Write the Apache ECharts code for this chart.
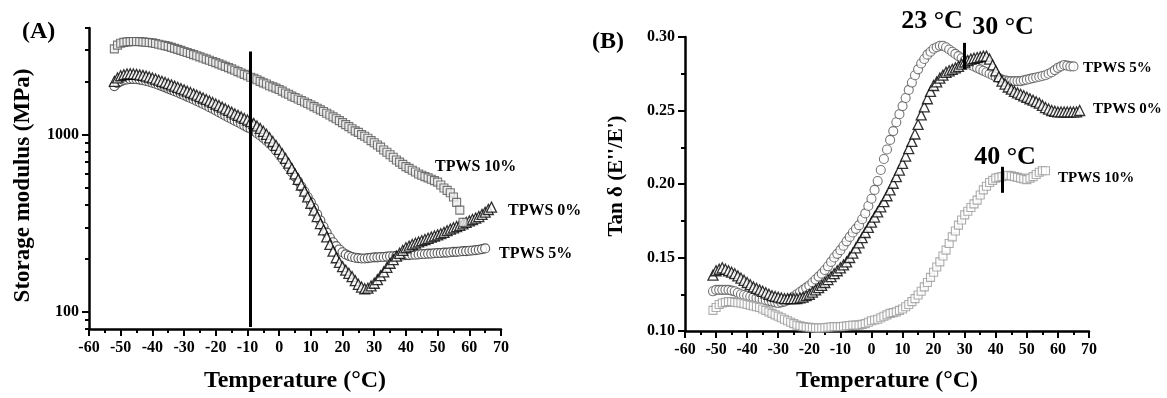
<!DOCTYPE html>
<html>
<head>
<meta charset="utf-8">
<script src="https://cdn.jsdelivr.net/npm/echarts@6/dist/echarts.min.js"></script>
<style>
html,body{margin:0;padding:0;background:#fff;}
#chart{width:1167px;height:398px;}
</style>
</head>
<body>
<div id="chart"></div>
<script>
// Temperature grid (°C) shared by all series
const temps = [-52,-51,-50,-49,-48,-47,-46,-45,-44,-43,
  -42,-41,-40,-39,-38,-37,-36,-35,-34,-33,
  -32,-31,-30,-29,-28,-27,-26,-25,-24,-23,
  -22,-21,-20,-19,-18,-17,-16,-15,-14,-13,
  -12,-11,-10,-9,-8,-7,-6,-5,-4,-3,
  -2,-1,0,1,2,3,4,5,6,7,
  8,9,10,11,12,13,14,15,16,17,
  18,19,20,21,22,23,24,25,26,27,
  28,29,30,31,32,33,34,35,36,37,
  38,39,40,41,42,43,44,45,46,47,
  48,49,50,51,52,53,54,55,56,57,
  58,59,60,61,62,63,64,65,66,67,
  68];

// Panel A: storage modulus (MPa)
const storage10 = [3050,3200,3280,3320,3340,3350,3355,3355,3350,3340,
  3325,3310,3295,3270,3240,3210,3180,3150,3110,3070,
  3030,2990,2950,2910,2870,2830,2790,2750,2710,2670,
  2630,2590,2550,2510,2470,2430,2390,2350,2310,2270,
  2230,2190,2150,2110,2080,2040,2000,1960,1930,1890,
  1860,1830,1800,1760,1720,1690,1650,1620,1590,1560,
  1530,1500,1470,1440,1410,1380,1350,1320,1290,1260,
  1230,1200,1170,1140,1110,1080,1050,1030,1000,980,
  955,925,900,875,850,820,795,770,745,720,
  700,680,660,645,630,615,600,590,580,570,
  560,550,540,520,500,485,470,445,415,375,
  320,null,null,null,null,null,null,null,null,null,
  null];
const storage0 = [2000,2090,2150,2180,2200,2205,2200,2190,2175,2160,
  2140,2115,2090,2060,2030,2000,1970,1940,1910,1880,
  1850,1820,1790,1760,1730,1700,1670,1640,1610,1580,
  1550,1520,1490,1460,1430,1400,1370,1340,1310,1285,
  1260,1235,1210,1185,1155,1120,1085,1045,1005,960,
  915,870,825,780,735,690,645,600,560,520,
  480,445,410,375,345,315,290,265,240,220,
  202,190,180,172,165,158,150,143,138,135,
  136,140,145,152,160,168,178,188,197,206,
  214,222,230,235,240,244,248,252,256,260,
  264,268,272,276,281,287,293,298,303,308,
  314,320,326,332,338,345,355,365,378,390,
  null];
const storage5 = [1880,1950,2000,2030,2050,2060,2060,2055,2045,2030,
  2010,1990,1965,1940,1910,1880,1850,1820,1790,1760,
  1730,1700,1670,1640,1610,1580,1550,1520,1490,1460,
  1430,1400,1370,1340,1310,1280,1250,1225,1200,1175,
  1150,1125,1100,1080,1050,1020,990,960,925,890,
  855,815,775,735,695,655,615,580,545,510,
  478,445,415,385,355,328,302,280,262,247,
  235,225,217,211,207,204,202,201,200,200,
  201,202,203,203,204,204,205,206,206,207,
  207,208,209,209,210,210,211,212,212,213,
  213,214,215,215,216,216,217,218,218,219,
  220,220,221,222,223,224,226,228,null,null,
  null];

// Panel B: tan delta
const tan0 = [null,0.138,0.141,0.142,0.143,0.142,0.141,0.140,0.139,0.1375,
  0.136,0.1345,0.133,0.1315,0.130,0.129,0.128,0.127,0.126,0.125,
  0.124,0.1235,0.123,0.1225,0.122,0.122,0.122,0.122,0.122,0.1225,
  0.123,0.124,0.125,0.1265,0.128,0.1295,0.131,0.133,0.135,0.137,
  0.139,0.141,0.143,0.145,0.147,0.150,0.153,0.1565,0.160,0.1635,
  0.167,0.1705,0.174,0.1775,0.181,0.1845,0.188,0.192,0.196,0.2005,
  0.205,0.2095,0.214,0.219,0.224,0.229,0.234,0.2405,0.247,0.2525,
  0.258,0.263,0.267,0.2695,0.272,0.274,0.276,0.277,0.278,0.279,
  0.280,0.2815,0.283,0.284,0.285,0.2855,0.286,0.2865,0.287,0.287,
  0.285,0.281,0.277,0.273,0.270,0.268,0.266,0.2645,0.263,0.262,
  0.261,0.260,0.259,0.258,0.257,0.256,0.255,0.2535,0.252,0.251,
  0.250,0.2495,0.249,0.249,0.249,0.249,0.249,0.249,0.249,0.250,
  null];
const tan5 = [null,0.127,0.128,0.128,0.128,0.128,0.128,0.1275,0.127,0.126,
  0.125,0.1245,0.124,0.1235,0.123,0.1225,0.122,0.1215,0.121,0.1205,
  0.120,0.1195,0.119,0.1195,0.120,0.121,0.122,0.1235,0.125,0.1265,
  0.128,0.1295,0.131,0.133,0.135,0.137,0.139,0.1415,0.144,0.147,
  0.150,0.1525,0.155,0.158,0.161,0.164,0.167,0.1695,0.172,0.176,
  0.180,0.185,0.190,0.196,0.202,0.2095,0.217,0.2235,0.230,0.236,
  0.242,0.2475,0.253,0.2585,0.264,0.269,0.274,0.278,0.282,0.285,
  0.288,0.290,0.292,0.293,0.294,0.294,0.293,0.2915,0.290,0.2885,
  0.287,0.2855,0.284,0.2825,0.281,0.280,0.279,0.278,0.277,0.276,
  0.275,0.274,0.273,0.272,0.271,0.2705,0.270,0.270,0.270,0.270,
  0.270,0.2705,0.271,0.2715,0.272,0.2725,0.273,0.2735,0.274,0.275,
  0.276,0.2775,0.279,0.280,0.281,0.2805,0.280,0.280,null,null,
  null];
const tan10 = [null,0.114,0.116,0.118,0.119,0.1195,0.120,0.120,0.1195,0.1192,
  0.119,0.1185,0.118,0.1175,0.117,0.1165,0.116,0.115,0.114,0.113,
  0.112,0.111,0.110,0.109,0.108,0.107,0.106,0.105,0.104,0.1035,
  0.103,0.1027,0.1025,0.1022,0.102,0.102,0.102,0.1022,0.1025,0.1027,
  0.103,0.103,0.103,0.1032,0.1035,0.1037,0.104,0.104,0.104,0.1045,
  0.105,0.106,0.107,0.1075,0.108,0.109,0.110,0.111,0.112,0.1125,
  0.113,0.114,0.115,0.1165,0.118,0.120,0.122,0.1245,0.127,0.130,
  0.133,0.1365,0.140,0.1435,0.147,0.151,0.155,0.1595,0.164,0.168,
  0.172,0.1755,0.179,0.1815,0.184,0.1865,0.189,0.1925,0.196,0.1985,
  0.201,0.2025,0.204,0.2045,0.205,0.2055,0.206,0.2055,0.205,0.2045,
  0.204,0.2035,0.203,0.204,0.205,0.2065,0.208,0.209,0.209,null,
  null,null,null,null,null,null,null,null,null,null,
  null];

// Axis ticks
const xTicks = [-60,70,10];
const logMajor = [100,1000];
const logMinor = [80,90,200,300,400,500,600,700,800,900,2000,3000,4000];
const tanRange = [0.10,0.30,0.05];

// Annotations
const vLineA = {temp:-9.1, from:82, to:2950};
const peakTemps = [23.5, 29.8, 42.2];
const peakSpans = [[0.285,0.303],[0.278,0.296],[0.194,0.2117]];
const peakTexts = ['23 °C','30 °C','40 °C'];
const seriesNames = ['TPWS 0%','TPWS 5%','TPWS 10%'];

function pairs(vals){
  const out=[];
  for(let i=0;i<temps.length;i++){ if(vals[i]!=null) out.push([temps[i],vals[i]]); }
  return out;
}

const FONT='"Liberation Serif","DejaVu Serif",serif';
const lbl = {color:'#000', fontFamily:FONT, fontWeight:'bold', fontSize:16};
const AXW = 2.5;

function xAxisCfg(gi, gap){
  return {gridIndex:gi, type:'value', min:xTicks[0], max:xTicks[1], interval:xTicks[2],
    axisLine:{show:true,onZero:false,lineStyle:{color:'#000',width:AXW}},
    axisTick:{show:true,length:7,lineStyle:{color:'#000',width:2}},
    minorTick:{show:true,splitNumber:2,length:4,lineStyle:{color:'#000',width:2}},
    splitLine:{show:false}, minorSplitLine:{show:false},
    axisLabel:Object.assign({margin:11},lbl),
    name:'Temperature (°C)', nameLocation:'middle', nameGap:gap,
    nameTextStyle:{color:'#000',fontFamily:FONT,fontWeight:'bold',fontSize:24}};
}

const chart = echarts.init(document.getElementById('chart'), null, {renderer:'canvas'});
const option = {
  animation:false,
  backgroundColor:'#fff',
  grid:[{left:89,top:28,width:412,height:307},{left:685,top:37,width:404,height:300}],
  xAxis:[xAxisCfg(0,40), xAxisCfg(1,38)],
  yAxis:[
    {gridIndex:0,type:'log',logBase:10,min:80,max:4000,position:'left',
      axisLine:{show:true,onZero:false,lineStyle:{color:'#000',width:AXW}},
      axisTick:{show:true,length:7,customValues:logMajor,lineStyle:{color:'#000',width:2}},
      axisLabel:Object.assign({margin:10,customValues:logMajor,formatter:v=>String(Math.round(v))},lbl),
      splitLine:{show:false},
      name:'Storage modulus (MPa)', nameLocation:'middle', nameGap:54,
      nameTextStyle:{color:'#000',fontFamily:FONT,fontWeight:'bold',fontSize:23,padding:[0,14,0,0]}},
    {gridIndex:0,type:'log',logBase:10,min:80,max:4000,position:'left',offset:0,
      axisLine:{show:false,onZero:false},
      axisTick:{show:true,length:4,customValues:logMinor,lineStyle:{color:'#000',width:2}},
      axisLabel:{show:false}, splitLine:{show:false}},
    {gridIndex:1,type:'value',min:tanRange[0],max:tanRange[1],interval:tanRange[2],position:'left',
      axisLine:{show:true,onZero:false,lineStyle:{color:'#000',width:AXW}},
      axisTick:{show:true,length:7,lineStyle:{color:'#000',width:2}},
      minorTick:{show:true,splitNumber:2,length:4,lineStyle:{color:'#000',width:2}},
      splitLine:{show:false},
      axisLabel:Object.assign({margin:10,formatter:v=>v.toFixed(2)},lbl),
      name:"Tan δ (E''/E')", nameLocation:'middle', nameGap:58,
      nameTextStyle:{color:'#000',fontFamily:FONT,fontWeight:'bold',fontSize:21,padding:[0,0,0,16]}}
  ],
  series:[
    {name:seriesNames[1],type:'scatter',xAxisIndex:0,yAxisIndex:0,data:pairs(storage5),
      symbol:'circle',symbolSize:9,itemStyle:{color:'#fff',borderColor:'#333',borderWidth:1.1}},
    {name:seriesNames[0],type:'scatter',xAxisIndex:0,yAxisIndex:0,data:pairs(storage0),clip:false,
      symbol:'triangle',symbolSize:10,itemStyle:{color:'#fff',borderColor:'#000',borderWidth:1.3},
      markLine:{symbol:['none','none'],silent:true,animation:false,label:{show:false},
        lineStyle:{color:'#000',width:3,type:'solid'},
        data:[[{coord:[vLineA.temp,vLineA.to]},{coord:[vLineA.temp,vLineA.from]}]]}},
    {name:seriesNames[2],type:'scatter',xAxisIndex:0,yAxisIndex:0,data:pairs(storage10),
      symbol:'rect',symbolSize:8,itemStyle:{color:'#eeeeee',borderColor:'#555',borderWidth:1.1}},
    {name:seriesNames[1],type:'scatter',xAxisIndex:1,yAxisIndex:2,data:pairs(tan5),
      symbol:'circle',symbolSize:9,itemStyle:{color:'#fff',borderColor:'#555',borderWidth:1.1}},
    {name:seriesNames[0],type:'scatter',xAxisIndex:1,yAxisIndex:2,data:pairs(tan0),clip:false,
      symbol:'triangle',symbolSize:10,itemStyle:{color:'#fff',borderColor:'#000',borderWidth:1.3},
      markLine:{symbol:['none','none'],silent:true,animation:false,label:{show:false},
        lineStyle:{color:'#000',width:3,type:'solid'},
        data:peakTemps.map((t,i)=>[{coord:[t,peakSpans[i][1]]},{coord:[t,peakSpans[i][0]]}])}},
    {name:seriesNames[2],type:'scatter',xAxisIndex:1,yAxisIndex:2,data:pairs(tan10),
      symbol:'rect',symbolSize:8,itemStyle:{color:'#fff',borderColor:'#999',borderWidth:1.1}}
  ],
  graphic:[
    {type:'text',x:22,y:32,style:{text:'(A)',font:'bold 24px '+FONT,fill:'#000',verticalAlign:'middle'}},
    {type:'text',x:592,y:42,style:{text:'(B)',font:'bold 24px '+FONT,fill:'#000',verticalAlign:'middle'}},
    {type:'text',x:435,y:167,style:{text:seriesNames[2],font:'bold 16px '+FONT,fill:'#000',verticalAlign:'middle'}},
    {type:'text',x:508,y:211,style:{text:seriesNames[0],font:'bold 16px '+FONT,fill:'#000',verticalAlign:'middle'}},
    {type:'text',x:499,y:254,style:{text:seriesNames[1],font:'bold 16px '+FONT,fill:'#000',verticalAlign:'middle'}},
    {type:'text',x:1083,y:68,style:{text:seriesNames[1],font:'bold 15px '+FONT,fill:'#000',verticalAlign:'middle'}},
    {type:'text',x:1093,y:109,style:{text:seriesNames[0],font:'bold 15px '+FONT,fill:'#000',verticalAlign:'middle'}},
    {type:'text',x:1058,y:178,style:{text:seriesNames[2],font:'bold 15px '+FONT,fill:'#000',verticalAlign:'middle'}},
    {type:'text',x:932,y:21,style:{text:peakTexts[0],font:'bold 26px '+FONT,fill:'#000',align:'center',verticalAlign:'middle'}},
    {type:'text',x:1003,y:27,style:{text:peakTexts[1],font:'bold 26px '+FONT,fill:'#000',align:'center',verticalAlign:'middle'}},
    {type:'text',x:1005,y:157,style:{text:peakTexts[2],font:'bold 26px '+FONT,fill:'#000',align:'center',verticalAlign:'middle'}}
  ]
};
chart.setOption(option);
</script>
</body>
</html>
